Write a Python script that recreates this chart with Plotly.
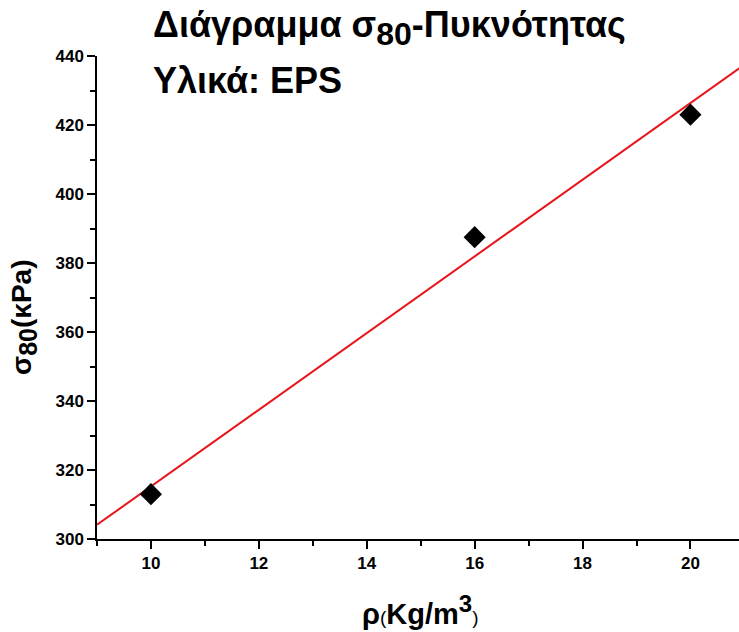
import numpy as np
import plotly.graph_objects as go

# Data
density = [10, 16, 20]           # ρ (Kg/m3)
sigma80 = [313, 387.5, 423]      # σ80 (kPa)
x_ticks = [10, 12, 14, 16, 18, 20]
y_ticks = [300, 320, 340, 360, 380, 400, 420, 440]

# Linear fit
slope, intercept = np.polyfit(density, sigma80, 1)
fit_x = [9, 21]
fit_y = [slope * v + intercept for v in fit_x]

FONT = "Arial, 'Liberation Sans', sans-serif"

fig = go.Figure()
fig.add_trace(go.Scatter(x=fit_x, y=fit_y, mode="lines",
                         line=dict(color="#e8141b", width=2), showlegend=False))
fig.add_trace(go.Scatter(x=density, y=sigma80, mode="markers",
                         marker=dict(symbol="diamond", size=17, color="black"),
                         showlegend=False))

axis_common = dict(showline=True, linecolor="black", linewidth=1.5,
                   ticks="outside", ticklen=8, tickwidth=1.5, tickcolor="black",
                   showgrid=False, zeroline=False,
                   tickfont=dict(family=FONT, size=17, color="black", weight="bold"))

fig.update_xaxes(range=[9, 20.9], tickvals=x_ticks,
                 minor=dict(ticks="outside", ticklen=5, tickwidth=1.5, tickcolor="black", dtick=1, tick0=9),
                 **axis_common)
fig.update_yaxes(range=[300, 440], tickvals=y_ticks,
                 minor=dict(ticks="outside", ticklen=5, tickwidth=1.5, tickcolor="black", dtick=10, tick0=300),
                 **axis_common)

X0 = 97
W = 642
B = 539
H = 483

annotations = [
    dict(text="Διάγραμμα σ<sub><span style='font-size:32px'>80</span></sub>-Πυκνότητας",
         x=(151 - X0) / W, y=(B - 28) / H,
         xanchor="left", yanchor="middle", font=dict(family=FONT, size=36, color="black", weight="bold")),
    dict(text="Υλικά: EPS", x=(151 - X0) / W, y=(B - 80) / H,
         xanchor="left", yanchor="middle", font=dict(family=FONT, size=36, color="black", weight="bold")),
    dict(text="ρ<span style='font-size:19px;font-weight:normal'>(</span>Kg/m<sup><span style='font-size:24px'>3</span></sup><span style='font-size:19px;font-weight:normal'>)</span>",
         x=(420 - X0) / W, y=(B - 610) / H, xanchor="center", yanchor="middle",
         font=dict(family=FONT, size=29, color="black", weight="bold")),
    dict(text="σ<sub><span style='font-size:25px'>80</span></sub>(κPa)", x=(24 - X0) / W, y=(B - 318) / H,
         xanchor="center", yanchor="middle", textangle=-90,
         font=dict(family=FONT, size=28, color="black", weight="bold")),
]
for a in annotations:
    a.update(xref="paper", yref="paper", showarrow=False)

fig.update_layout(width=739, height=632,
                  margin=dict(l=X0, r=0, t=56, b=93),
                  plot_bgcolor="white", paper_bgcolor="white",
                  annotations=annotations)

fig.write_html("out.html")
